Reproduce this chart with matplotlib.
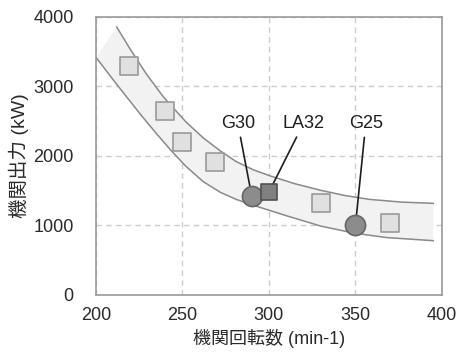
import matplotlib.pyplot as plt

plt.rcParams['font.family'] = ['Liberation Sans', 'Noto Sans CJK JP']

# 他機種 (light squares)
other_rpm = [219, 240, 250, 269, 330, 370]
other_kw = [3300, 2650, 2200, 1910, 1320, 1030]

# 比較機種 (circles) と LA32
g_names = ['G30', 'G25']
g_rpm = [290, 350]
g_kw = [1430, 1000]
la_rpm = [300]
la_kw = [1480]

# 帯の上限・下限
upper_rpm = [212, 219, 229, 239, 248, 252, 262, 272, 281, 291, 301, 315, 330, 344, 358, 377, 395]
upper_kw = [3856, 3568, 3184, 2849, 2600, 2490, 2260, 2070, 1920, 1800, 1710, 1600, 1505,
            1430, 1375, 1335, 1318]
lower_rpm = [200, 212, 219, 226, 235, 243, 252, 262, 272, 281, 291, 310, 330, 349, 368, 395]
lower_kw = [3420, 3030, 2810, 2590, 2320, 2090, 1850, 1630, 1475, 1375, 1290, 1140, 990,
            890, 825, 780]

# ラベル位置
lab_rpm = {'G30': 282, 'LA32': 320, 'G25': 356}
lab_kw = 2470

fig = plt.figure(figsize=(4.57, 3.54), dpi=100)
ax = fig.add_axes([0.21, 0.167, 0.757, 0.785])

band_x = upper_rpm + lower_rpm[::-1]
band_y = upper_kw + lower_kw[::-1]
ax.fill(band_x, band_y, color='#f2f2f2', lw=0, zorder=1)
ax.plot(upper_rpm, upper_kw, color='#8a8a8a', lw=1.1, zorder=2)
ax.plot(lower_rpm, lower_kw, color='#8a8a8a', lw=1.1, zorder=2)

ax.scatter(other_rpm, other_kw, marker='s', s=150, facecolor='#e0e0e0',
           edgecolor='#9a9a9a', linewidth=1.2, zorder=3)
ax.scatter(g_rpm, g_kw, marker='o', s=210, facecolor='#8c8c8c',
           edgecolor='#666666', linewidth=1.2, zorder=4)
ax.scatter(la_rpm, la_kw, marker='s', s=140, facecolor='#808080',
           edgecolor='#505050', linewidth=1.2, zorder=4)

for name, x, y in zip(g_names + ['LA32'], g_rpm + la_rpm, g_kw + la_kw):
    ax.annotate(name, xy=(x, y), xytext=(lab_rpm[name], lab_kw),
                ha='center', va='center', fontsize=13, color='#1e1e1e',
                arrowprops=dict(arrowstyle='-', color='#1e1e1e', lw=1.2,
                                shrinkA=2, shrinkB=0),
                zorder=3)

ax.set_xlim(200, 400)
ax.set_ylim(0, 4000)
ax.set_xticks([200, 250, 300, 350, 400])
ax.set_yticks([0, 1000, 2000, 3000, 4000])
ax.tick_params(length=0, labelsize=13, colors='#2a2a2a')
ax.tick_params(axis='y', pad=16)
ax.tick_params(axis='x', pad=9)
ax.grid(True, color='#cccccc', linestyle=(0, (4, 3)), lw=1)
ax.set_axisbelow(True)
for s in ax.spines.values():
    s.set_color('#999999')
    s.set_linewidth(1.2)

ax.set_xlabel('機関回転数 (min-1)', fontsize=13, color='#2a2a2a', labelpad=3)
ax.set_ylabel('機関出力 (kW)', fontsize=14, color='#2a2a2a', labelpad=3)

fig.savefig('out.png', dpi=100)
